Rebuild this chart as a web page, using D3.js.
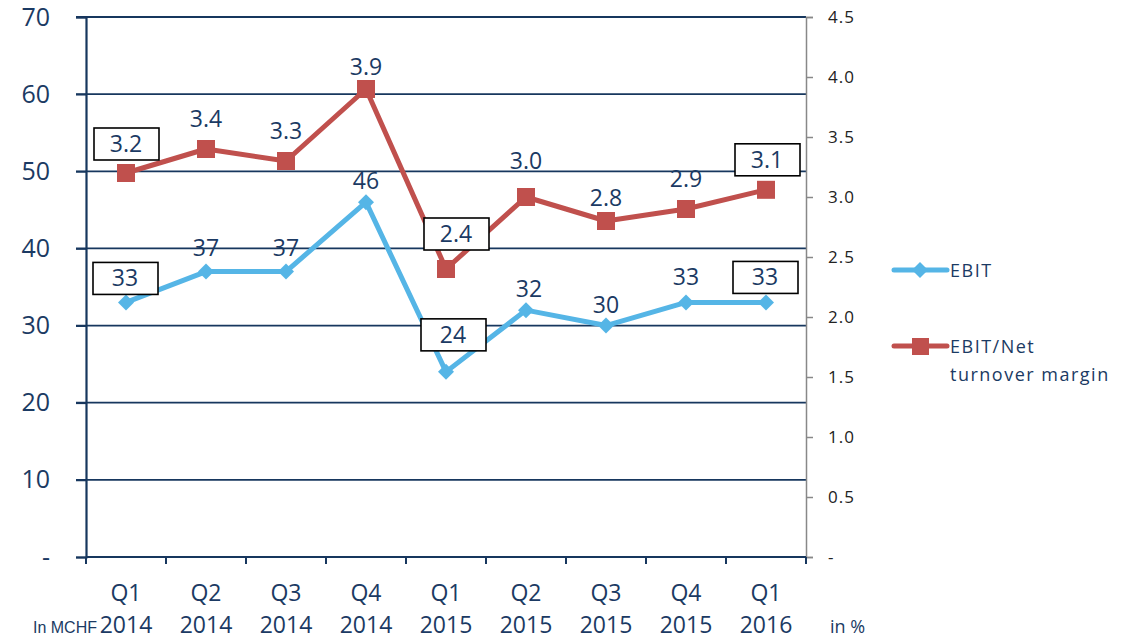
<!DOCTYPE html>
<html>
<head>
<meta charset="utf-8">
<script src="https://cdn.jsdelivr.net/npm/d3@7"></script>
<style>
  html, body { margin: 0; padding: 0; background: #fff; }
  svg { display: block; }
</style>
</head>
<body>
<svg id="chart" width="1121" height="640"></svg>
<script>
// ---- data ----
const quarters = ["Q1", "Q2", "Q3", "Q4", "Q1", "Q2", "Q3", "Q4", "Q1"];
const years = ["2014", "2014", "2014", "2014", "2015", "2015", "2015", "2015", "2016"];
const ebit = [33, 37, 37, 46, 24, 32, 30, 33, 33];
const margin = [3.2, 3.4, 3.3, 3.9, 2.4, 3.0, 2.8, 2.9, 3.06];
const leftTicks = [0, 10, 20, 30, 40, 50, 60, 70];
const rightTicks = [0, 0.5, 1.0, 1.5, 2.0, 2.5, 3.0, 3.5, 4.0, 4.5];
const boxedIdx = [0, 4, 8];
const seriesNames = ["EBIT", "EBIT/Net", "turnover margin"];

// ---- layout ----
const svg = d3.select("#chart");
const L = 86, R = 806, T = 17, B = 557;
const navy = "#17375e", txt = "#1b3a63";
const blue = "#55b5e6", red = "#c0504d";
const keys = quarters.map((q, i) => q + " " + years[i]);

const x = d3.scaleBand().domain(keys).range([L, R]);
const yL = d3.scaleLinear().domain([0, 70]).range([B, T]);
const yR = d3.scaleLinear().domain([0, 4.5]).range([B, T]);
const cx = i => x(keys[i]) + x.bandwidth() / 2;

// gridlines
svg.append("g").selectAll("line").data(leftTicks.filter(d => d > 0)).join("line")
  .attr("x1", L - 10).attr("x2", R).attr("y1", d => yL(d)).attr("y2", d => yL(d))
  .attr("stroke", navy).attr("stroke-width", 1.8);

// left axis
const gl = svg.append("g").attr("transform", `translate(${L},0)`)
  .call(d3.axisLeft(yL).tickValues(leftTicks).tickSize(10).tickPadding(26)
    .tickFormat(d => d === 0 ? "-" : d3.format("d")(d)));
gl.select(".domain").attr("stroke", navy).attr("stroke-width", 2.2);
gl.selectAll(".tick line").attr("stroke", navy).attr("stroke-width", 1.8);
gl.selectAll(".tick text").attr("fill", txt).style("font-family", "Open Sans")
  .style("font-size", "25px");

// right axis
const gr = svg.append("g").attr("transform", `translate(${R},0)`)
  .call(d3.axisRight(yR).tickValues(rightTicks).tickSize(7).tickPadding(15)
    .tickFormat(d => d === 0 ? "-" : d3.format(".1f")(d)));
gr.select(".domain").attr("stroke", "#888").attr("stroke-width", 1.5);
gr.selectAll(".tick line").attr("stroke", "#888").attr("stroke-width", 1.5);
gr.selectAll(".tick text").attr("fill", "#222").style("font-family", "Open Sans")
  .style("font-size", "17px").style("letter-spacing", "1px");

// bottom axis
svg.append("line").attr("x1", L).attr("x2", R).attr("y1", B).attr("y2", B)
  .attr("stroke", navy).attr("stroke-width", 2.2);
const bounds = keys.map(k => x(k)).concat([R]);
svg.append("g").selectAll("line").data(bounds).join("line")
  .attr("x1", d => d).attr("x2", d => d).attr("y1", B).attr("y2", B + 7)
  .attr("stroke", navy).attr("stroke-width", 2);
const xlabel = (arr, py) => svg.append("g").selectAll("text").data(keys).join("text")
  .attr("x", d => x(d) + x.bandwidth() / 2).attr("y", py)
  .attr("text-anchor", "middle").attr("fill", txt)
  .style("font-family", "Open Sans").style("font-size", "23px")
  .text((d, i) => arr[i]);
xlabel(quarters, 601);
xlabel(years, 633);

svg.append("text").attr("x", 33).attr("y", 633).attr("fill", txt)
  .style("font-family", "Liberation Sans").style("font-size", "16px").text("In MCHF");
svg.append("text").attr("x", 830).attr("y", 633).attr("fill", txt)
  .style("font-family", "Open Sans").style("font-size", "18px").text("in %");

// lines
const lineL = d3.line().x((d, i) => cx(i)).y(d => yL(d));
const lineR = d3.line().x((d, i) => cx(i)).y(d => yR(d));
svg.append("path").datum(margin).attr("d", lineR).attr("fill", "none")
  .attr("stroke", red).attr("stroke-width", 5).attr("stroke-linejoin", "round");
svg.append("path").datum(ebit).attr("d", lineL).attr("fill", "none")
  .attr("stroke", blue).attr("stroke-width", 5).attr("stroke-linejoin", "round");

// markers
const diamond = (px, py) => `M${px},${py - 8}L${px + 8},${py}L${px},${py + 8}L${px - 8},${py}Z`;
svg.append("g").selectAll("path").data(ebit).join("path")
  .attr("d", (d, i) => diamond(cx(i), yL(d))).attr("fill", blue);
svg.append("g").selectAll("rect").data(margin).join("rect")
  .attr("x", (d, i) => cx(i) - 9).attr("y", d => yR(d) - 9)
  .attr("width", 18).attr("height", 18).attr("fill", red);

// data labels (nudges mimic the hand-placed labels of the original)
const nudgeE = [[-1, -24], [0, -24], [0, -24], [0, -21], [7, -37], [3, -21], [0, -21], [0, -25], [-1, -25]];
const nudgeM = [[0, -29], [0, -30], [0, -30], [0, -22], [10, -35], [0, -36], [0, -23], [0, -30], [1, -30]];
function labels(data, ys, nudge, fmt) {
  const g = svg.append("g");
  data.forEach((d, i) => {
    const tx = cx(i) + nudge[i][0], ty = ys(d) + nudge[i][1];
    if (boxedIdx.includes(i)) {
      g.append("rect").attr("x", tx - 32).attr("y", ty - 16).attr("width", 65).attr("height", 32)
        .attr("fill", "#fff").attr("stroke", "#000").attr("stroke-width", 1.6);
    }
    g.append("text").attr("x", tx).attr("y", ty + 8).attr("text-anchor", "middle")
      .attr("fill", txt).style("font-family", "Open Sans").style("font-size", "23px")
      .text(fmt(d));
  });
}
labels(margin, yR, nudgeM, d3.format(".1f"));
labels(ebit, yL, nudgeE, d3.format("d"));

// legend
const lg = svg.append("g");
lg.append("line").attr("x1", 894).attr("x2", 947).attr("y1", 270).attr("y2", 270)
  .attr("stroke", blue).attr("stroke-width", 5).attr("stroke-linecap", "round");
lg.append("path").attr("d", diamond(920, 270)).attr("fill", blue);
lg.append("line").attr("x1", 894).attr("x2", 947).attr("y1", 346).attr("y2", 346)
  .attr("stroke", red).attr("stroke-width", 5).attr("stroke-linecap", "round");
lg.append("rect").attr("x", 912).attr("y", 338).attr("width", 17).attr("height", 17).attr("fill", red);
const lt = (t, px, py) => lg.append("text").attr("x", px).attr("y", py).attr("fill", txt)
  .style("font-family", "Open Sans").style("font-size", "18px").style("letter-spacing", "1.5px").text(t);
lt(seriesNames[0], 950, 277);
lt(seriesNames[1], 950, 353);
lt(seriesNames[2], 950, 381);
</script>
</body>
</html>
